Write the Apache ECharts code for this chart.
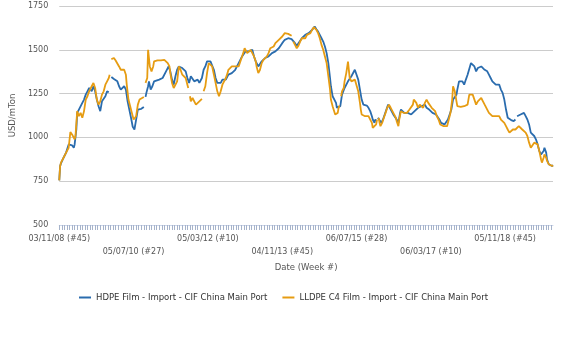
<!DOCTYPE html>
<html>
<head>
<meta charset="utf-8">
<script src="https://cdn.jsdelivr.net/npm/echarts@6/dist/echarts.min.js"></script>
<style>
html,body{margin:0;padding:0;background:#fff;}
#chart{width:576px;height:343px;}
</style>
</head>
<body>
<div id="chart"></div>
<script>
// Weekly categories: week index 0 = 03/11/08 (#45) ... 578
const weekCount = 579;
const tickLabels = ['03/11/08 (#45)', '05/07/10 (#27)', '05/03/12 (#10)', '04/11/13 (#45)', '06/07/15 (#28)', '06/03/17 (#10)', '05/11/18 (#45)'];
const labelStep = 87;
const seriesNames = ['HDPE Film - Import - CIF China Main Port', 'LLDPE C4 Film - Import - CIF China Main Port'];

// [week index, USD/mTon]; null = gap
const hdpe = [[0,755],[1,835],[2,852],[5,884],[8,913],[11,960],[13,970],[15,955],[17,941],[18,960],[20,1045],[21,1140],[23,1159],[25,1169],[27,1197],[29,1216],[31,1244],[33,1263],[35,1282],[37,1282],[38,1263],[40,1292],[42,1263],[44,1216],[46,1178],[48,1150],[50,1206],[52,1216],[54,1235],[56,1263],[58,1258],[59,null],
[61,1345],[63,1339],[64,1333],[66,1326],[68,1320],[70,1292],[72,1273],[74,1282],[76,1292],[78,1273],[80,1206],[82,1159],[84,1112],[86,1061],[88,1045],[89,1055],[90,1102],[92,1159],[94,1169],[96,1163],[97,1169],[99,1174],[100,null],
[101,1231],[102,1254],[104,1292],[105,1320],[107,1273],[109,1292],[111,1320],[113,1320],[117,1330],[121,1339],[125,1377],[128,1405],[130,1377],[132,1330],[134,1301],[136,1349],[138,1386],[140,1405],[142,1415],[144,1396],[146,1386],[148,1377],[150,1339],[152,1311],[154,1349],[156,1339],[158,1320],[160,1311],[162,1330],[164,1311],[165,1320],[167,1339],[169,1386],[171,1405],[173,1434],[175,1434],[177,1434],[179,1424],[181,1386],[183,1339],[185,1311],[187,1301],[189,1311],[191,1330],[193,1339],[195,1330],[197,1339],[198,1358],[200,1349],[202,1367],[204,1377],[206,1386],[208,1405],[210,1424],[212,1434],[214,1462],[216,1472],[218,1491],[220,1485],[222,1491],[224,1496],[226,1500],[228,1462],[230,1434],[233,1405],[234,1415],[237,1434],[241,1453],[245,1462],[249,1481],[253,1491],[257,1509],[261,1538],[264,1557],[268,1566],[272,1561],[274,1553],[276,1538],[278,1523],[280,1528],[284,1566],[288,1585],[292,1595],[296,1614],[299,1633],[301,1617],[303,1604],[305,1585],[307,1566],[309,1547],[311,1519],[313,1481],[315,1424],[317,1339],[318,1292],[320,1235],[322,1225],[324,1197],[325,1169],[327,1159],[329,1178],[331,1244],[334,1282],[338,1320],[342,1349],[346,1386],[348,1377],[350,1330],[352,1273],[354,1216],[356,1187],[358,1178],[360,1182],[362,1169],[364,1150],[366,1121],[367,1102],[369,1083],[370,1102],[371,1093],[372,null],
[373,1112],[375,1102],[377,1083],[379,1102],[381,1131],[383,1159],[385,1187],[387,1169],[389,1159],[391,1131],[393,1121],[395,1102],[397,1083],[399,1140],[400,1159],[402,1150],[404,1140],[406,1131],[408,1140],[410,1150],[412,1131],[414,1140],[416,1150],[418,1159],[420,1169],[422,1159],[424,1178],[426,1169],[428,1187],[430,1169],[432,1178],[433,1159],[435,1150],[437,1140],[439,1140],[441,1131],[443,1121],[445,1102],[447,1083],[449,1074],[451,1074],[453,1083],[455,1102],[457,1131],[459,1159],[461,1216],[463,1225],[465,1244],[466,1273],[468,1320],[470,1330],[472,1320],[474,1301],[476,1330],[478,1358],[480,1367],[482,1424],[484,1415],[486,1405],[488,1377],[490,1396],[492,1386],[494,1405],[496,1396],[498,1386],[500,1396],[501,1377],[503,1358],[505,1339],[507,1320],[509,1311],[511,1301],[513,1292],[515,1301],[517,1273],[519,1254],[521,1216],[523,1159],[525,1112],[527,1102],[529,1099],[531,1102],[532,1093],[534,1102],[535,null],
[536,1121],[538,1121],[540,1131],[542,1121],[544,1140],[546,1121],[548,1102],[550,1074],[552,1027],[554,1017],[556,1008],[558,989],[560,960],[562,922],[564,903],[565,894],[567,922],[568,941],[570,913],[571,875],[573,847],[575,837],[577,837],[578,841]];

const lldpe = [[0,755],[1,835],[2,856],[5,884],[8,913],[11,941],[13,1030],[15,1017],[18,989],[19,1008],[21,1150],[23,1121],[25,1140],[27,1112],[29,1150],[31,1216],[33,1235],[35,1263],[37,1263],[38,1292],[40,1311],[42,1282],[44,1216],[46,1187],[48,1206],[50,1244],[52,1263],[54,1301],[56,1320],[58,1339],[59,1358],[60,null],
[61,1447],[62,1443],[64,1453],[66,1439],[68,1434],[70,1405],[72,1386],[74,1377],[76,1386],[78,1358],[79,1301],[81,1216],[83,1178],[85,1140],[87,1102],[89,1093],[90,1121],[92,1187],[94,1216],[96,1222],[97,1225],[99,1231],[100,null],
[101,1311],[103,1339],[104,1500],[105,1504],[106,1405],[108,1377],[110,1405],[111,1434],[113,1434],[115,1440],[117,1447],[119,1440],[121,1434],[123,1443],[125,1434],[127,1424],[129,1405],[130,1367],[132,1311],[134,1282],[136,1273],[138,1320],[140,1405],[142,1386],[144,1358],[146,1349],[148,1339],[150,1301],[151,1282],[152,null],
[153,1235],[154,1206],[156,1225],[158,1216],[160,1187],[162,1178],[164,1206],[165,1216],[167,1220],[168,null],
[169,1263],[171,1292],[173,1367],[175,1424],[177,1434],[179,1405],[181,1358],[183,1311],[185,1263],[187,1235],[189,1263],[191,1301],[193,1311],[195,1339],[197,1367],[198,1386],[200,1386],[202,1405],[204,1415],[206,1405],[208,1396],[210,1405],[212,1434],[214,1462],[216,1491],[217,1509],[218,1500],[220,1481],[222,1491],[224,1500],[226,1491],[228,1462],[230,1434],[231,1405],[233,1367],[235,1386],[237,1424],[239,1443],[241,1453],[243,1462],[245,1481],[247,1509],[249,1500],[251,1519],[253,1538],[255,1547],[257,1557],[259,1566],[261,1576],[263,1585],[264,1595],[266,1604],[268,1591],[270,1585],[272,1580],[273,null],
[274,1547],[276,1528],[278,1509],[280,1523],[282,1547],[284,1566],[286,1576],[288,1566],[290,1585],[292,1585],[294,1595],[296,1614],[298,1629],[299,1623],[301,1614],[303,1595],[305,1566],[307,1528],[309,1500],[311,1462],[313,1424],[315,1349],[317,1273],[318,1216],[320,1178],[321,1169],[323,1131],[325,1121],[326,1140],[327,1169],[328,1182],[329,null],
[330,1235],[331,1263],[333,1282],[334,1320],[336,1367],[338,1433],[340,1340],[342,1320],[344,1330],[346,1330],[348,1320],[350,1263],[352,1197],[353,1159],[354,1131],[356,1131],[358,1121],[360,1131],[362,1121],[364,1112],[366,1083],[367,1055],[369,1064],[371,1074],[372,1102],[373,null],
[374,1112],[375,1083],[376,1064],[378,1083],[380,1112],[382,1140],[384,1169],[386,1187],[388,1169],[390,1150],[392,1131],[394,1112],[395,1093],[397,1064],[398,1102],[400,1150],[401,1159],[403,1140],[405,1150],[407,1140],[408,1150],[410,1159],[412,1169],[414,1187],[415,1216],[417,1220],[418,1197],[420,1169],[422,1187],[424,1197],[426,1169],[428,1197],[430,1216],[431,1225],[432,1197],[434,1187],[436,1169],[438,1169],[440,1150],[442,1121],[444,1102],[446,1074],[448,1064],[450,1064],[452,1061],[454,1064],[456,1102],[458,1140],[460,1216],[461,1292],[462,1301],[463,1263],[464,1235],[465,1206],[466,1178],[468,1182],[470,1174],[472,1169],[474,1178],[476,1169],[478,1187],[480,1244],[482,1254],[484,1244],[486,1235],[488,1187],[490,1206],[492,1216],[494,1225],[496,1206],[498,1187],[500,1178],[501,1159],[503,1140],[505,1150],[507,1121],[509,1112],[511,1121],[513,1112],[515,1121],[517,1102],[519,1093],[521,1083],[523,1064],[525,1045],[527,1027],[529,1036],[531,1045],[532,1055],[534,1045],[536,1055],[538,1064],[540,1055],[542,1045],[544,1045],[546,1027],[548,1008],[550,970],[552,941],[554,932],[556,970],[558,979],[560,960],[562,922],[564,875],[565,856],[567,884],[568,903],[570,884],[571,866],[573,847],[575,837],[577,837],[578,841]];

const categories = [];
for (let i = 0; i < weekCount; i++) categories.push(String(i));

const chart = echarts.init(document.getElementById('chart'));
const FONT = 'DejaVu Sans';
chart.setOption({
  animation: false,
  textStyle: {fontFamily: FONT},
  grid: {left: 57, right: 23, top: 6, bottom: 118},
  legend: {
    left: 74, top: 288,
    itemWidth: 12, itemHeight: 2, itemGap: 15,
    icon: 'rect',
    textStyle: {fontFamily: FONT, fontSize: 8.5, color: '#333333'},
    data: seriesNames
  },
  xAxis: {
    type: 'category',
    data: categories,
    boundaryGap: false,
    name: 'Date (Week #)',
    nameLocation: 'middle',
    nameGap: 33,
    nameTextStyle: {fontFamily: FONT, fontSize: 8.5, color: '#555555'},
    axisLine: {show: true, lineStyle: {color: '#ccd6eb', width: 1}},
    axisTick: {show: true, interval: 2, length: 5, lineStyle: {color: '#a6b3ca', width: 1}},
    axisLabel: {
      interval: labelStep - 1,
      margin: 7,
      fontFamily: FONT, fontSize: 8, color: '#555555', lineHeight: 13,
      formatter: function (v, idx) {
        const k = Math.round(idx / labelStep);
        if (idx % labelStep !== 0 || k >= tickLabels.length) return '';
        return (k % 2 === 1 ? '\n' : '') + tickLabels[k];
      }
    },
    splitLine: {show: false}
  },
  yAxis: {
    type: 'value',
    min: 500, max: 1750, interval: 250,
    name: 'USD/mTon',
    nameLocation: 'middle',
    nameGap: 34,
    nameTextStyle: {fontFamily: FONT, fontSize: 8.5, color: '#555555'},
    axisLine: {show: false},
    axisTick: {show: false},
    axisLabel: {margin: 11, fontFamily: FONT, fontSize: 8, color: '#555555',
      formatter: function (v) { return String(v); }},
    splitLine: {show: true, lineStyle: {color: '#cccccc', width: 1}}
  },
  series: [
    {
      name: seriesNames[0], type: 'line', data: hdpe,
      showSymbol: false, symbol: 'none',
      lineStyle: {color: '#2a6cae', width: 1.8}, itemStyle: {color: '#2a6cae'}
    },
    {
      name: seriesNames[1], type: 'line', data: lldpe,
      showSymbol: false, symbol: 'none',
      lineStyle: {color: '#e69c12', width: 1.8}, itemStyle: {color: '#e69c12'}
    }
  ]
});
</script>
</body>
</html>
